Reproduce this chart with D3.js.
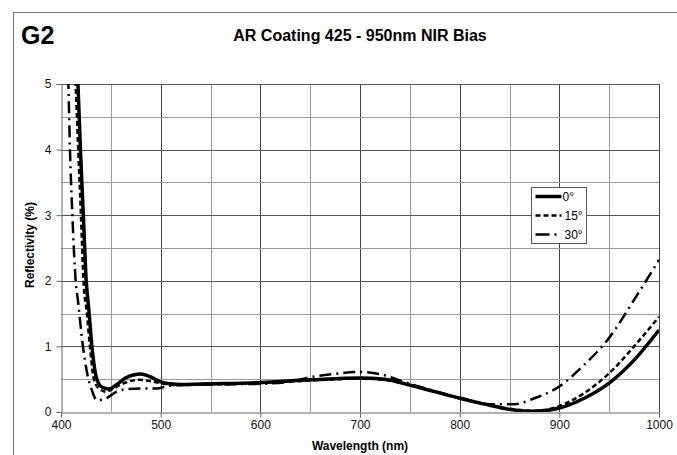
<!DOCTYPE html>
<html>
<head>
<meta charset="utf-8">
<script src="https://cdn.jsdelivr.net/npm/d3@7"></script>
<style>
body { margin: 0; background: #fff; }
text { font-family: Arial, "Liberation Sans", sans-serif; }
</style>
</head>
<body>
<div id="chart"></div>
<script>
// data
var xTicks = [400, 500, 600, 700, 800, 900, 1000];
var yTicks = [0, 1, 2, 3, 4, 5];
var seriesNames = ["0\u00b0", "15\u00b0", "30\u00b0"];

var nm0 = [414, 417, 419.5, 422.4, 425.3, 428, 431, 436, 441, 448, 456, 465, 480, 492, 500, 510, 520, 550, 600, 650, 700, 725, 750, 775, 800, 825, 850, 875, 900, 925, 950, 975, 1000];
var r0  = [5.9, 5.0, 4.0, 3.0, 2.0, 1.55, 1.0, 0.5, 0.38, 0.35, 0.42, 0.52, 0.58, 0.52, 0.46, 0.43, 0.42, 0.43, 0.45, 0.49, 0.52, 0.5, 0.41, 0.31, 0.21, 0.12, 0.04, 0.01, 0.06, 0.21, 0.44, 0.79, 1.25];

var nm15 = [412.5, 414.7, 417.3, 420, 422.6, 426, 429, 433, 438, 445, 455, 465, 478, 490, 500, 515, 550, 600, 650, 700, 725, 750, 775, 800, 825, 850, 875, 900, 925, 950, 975, 1000];
var r15  = [5.9, 5.0, 4.0, 3.0, 2.0, 1.5, 1.0, 0.5, 0.36, 0.31, 0.38, 0.45, 0.49, 0.47, 0.44, 0.41, 0.42, 0.44, 0.48, 0.51, 0.49, 0.41, 0.31, 0.21, 0.12, 0.05, 0.02, 0.09, 0.29, 0.59, 1.0, 1.45];

var nm30 = [405, 407.4, 409, 411.4, 414.7, 417, 422, 426, 431, 436, 444, 456, 466, 480, 497, 508, 520, 550, 600, 630, 650, 675, 700, 725, 740, 750, 775, 800, 830, 855, 875, 900, 925, 950, 975, 1000];
var r30  = [6.2, 5.0, 4.0, 3.0, 2.0, 1.7, 1.0, 0.61, 0.33, 0.18, 0.2, 0.31, 0.35, 0.36, 0.36, 0.4, 0.41, 0.42, 0.43, 0.46, 0.53, 0.58, 0.61, 0.56, 0.48, 0.43, 0.32, 0.22, 0.12, 0.12, 0.21, 0.39, 0.72, 1.13, 1.71, 2.32];

var W = 677, H = 455;
var pLeft = 61, pRight = 659, pTop = 84, pBottom = 412;

var svg = d3.select("#chart").append("svg")
    .attr("width", W)
    .attr("height", H);

// outer frame
svg.append("rect")
    .attr("x", 13.5).attr("y", 12.5)
    .attr("width", W).attr("height", H)
    .attr("fill", "none")
    .attr("stroke", "#777");

svg.append("text")
    .attr("x", 21).attr("y", 44)
    .attr("font-size", 25).attr("font-weight", "bold")
    .text("G2");

svg.append("text")
    .attr("x", 360).attr("y", 41)
    .attr("text-anchor", "middle")
    .attr("font-size", 16).attr("font-weight", "bold")
    .text("AR Coating 425 - 950nm NIR Bias");

var x = d3.scaleLinear().domain([400, 1000]).range([pLeft, pRight]);
var y = d3.scaleLinear().domain([0, 5]).range([pBottom, pTop]);

var g = svg.append("g");

// grid
g.selectAll(".vminor").data(d3.range(450, 1000, 100)).enter().append("line")
    .attr("x1", function (d) { return Math.round(x(d)) + 0.5; })
    .attr("x2", function (d) { return Math.round(x(d)) + 0.5; })
    .attr("y1", pTop).attr("y2", pBottom)
    .attr("stroke", "#9a9a9a");
g.selectAll(".vmajor").data(d3.range(500, 1001, 100)).enter().append("line")
    .attr("x1", function (d) { return Math.round(x(d)) + 0.5; })
    .attr("x2", function (d) { return Math.round(x(d)) + 0.5; })
    .attr("y1", pTop).attr("y2", pBottom)
    .attr("stroke", "#444");
g.selectAll(".hminor").data(d3.range(0.5, 5, 1)).enter().append("line")
    .attr("y1", function (d) { return Math.round(y(d)) + 0.5; })
    .attr("y2", function (d) { return Math.round(y(d)) + 0.5; })
    .attr("x1", pLeft).attr("x2", pRight)
    .attr("stroke", "#9a9a9a");
g.selectAll(".hmajor").data(d3.range(1, 5.1, 1)).enter().append("line")
    .attr("y1", function (d) { return Math.round(y(d)) + 0.5; })
    .attr("y2", function (d) { return Math.round(y(d)) + 0.5; })
    .attr("x1", pLeft).attr("x2", pRight)
    .attr("stroke", "#555");

// axes
var xAxis = d3.axisBottom(x).tickValues(xTicks).tickFormat(d3.format("d")).tickSize(5).tickPadding(3);
var yAxis = d3.axisLeft(y).tickValues(yTicks).tickFormat(d3.format("d")).tickSize(5).tickPadding(5);

function styleAxis(a) {
    a.select(".domain").attr("stroke", "#666");
    a.selectAll(".tick line").attr("stroke", "#666");
    a.selectAll(".tick text").attr("font-size", 12).attr("fill", "#111")
        .attr("font-family", "Arial, 'Liberation Sans', sans-serif");
}

svg.append("g")
    .attr("transform", "translate(0," + (pBottom + 0.5) + ")")
    .call(xAxis)
    .call(styleAxis);

svg.append("g")
    .attr("transform", "translate(" + (pLeft + 0.5) + ",0)")
    .call(yAxis)
    .call(styleAxis);

svg.append("text")
    .attr("x", 360).attr("y", 450)
    .attr("text-anchor", "middle")
    .attr("font-size", 12).attr("font-weight", "bold")
    .text("Wavelength (nm)");

svg.append("text")
    .attr("transform", "translate(34,245) rotate(-90)")
    .attr("text-anchor", "middle")
    .attr("font-size", 12).attr("font-weight", "bold")
    .text("Reflectivity (%)");

// curves
svg.append("clipPath").attr("id", "clip")
    .append("rect")
    .attr("x", pLeft).attr("y", pTop)
    .attr("width", pRight - pLeft).attr("height", pBottom - pTop);

var line = d3.line()
    .x(function (d) { return x(d[0]); })
    .y(function (d) { return y(d[1]); })
    .curve(d3.curveMonotoneX);

var styles = [
    { width: 3.5, dash: null },
    { width: 2.5, dash: "5,3" },
    { width: 2.5, dash: "12,5,2,5" }
];
var series = [d3.zip(nm0, r0), d3.zip(nm15, r15), d3.zip(nm30, r30)];

var curves = svg.append("g").attr("clip-path", "url(#clip)");
series.forEach(function (s, i) {
    curves.append("path")
        .datum(s)
        .attr("d", line)
        .attr("fill", "none")
        .attr("stroke", "#000")
        .attr("stroke-width", styles[i].width)
        .attr("stroke-dasharray", styles[i].dash);
});

// legend
var lg = svg.append("g").attr("transform", "translate(531.5,187.5)");
lg.append("rect")
    .attr("width", 55).attr("height", 56)
    .attr("fill", "#fff").attr("stroke", "#555");
seriesNames.forEach(function (name, i) {
    var ly = 9 + i * 19;
    lg.append("line")
        .attr("x1", 4).attr("x2", 30)
        .attr("y1", ly).attr("y2", ly)
        .attr("stroke", "#000")
        .attr("stroke-width", styles[i].width)
        .attr("stroke-dasharray", i == 2 ? "14,5,2,5" : styles[i].dash);
    lg.append("text")
        .attr("x", i == 0 ? 31 : 33).attr("y", ly + 4)
        .attr("font-size", 12)
        .text(name);
});
</script>
</body>
</html>
